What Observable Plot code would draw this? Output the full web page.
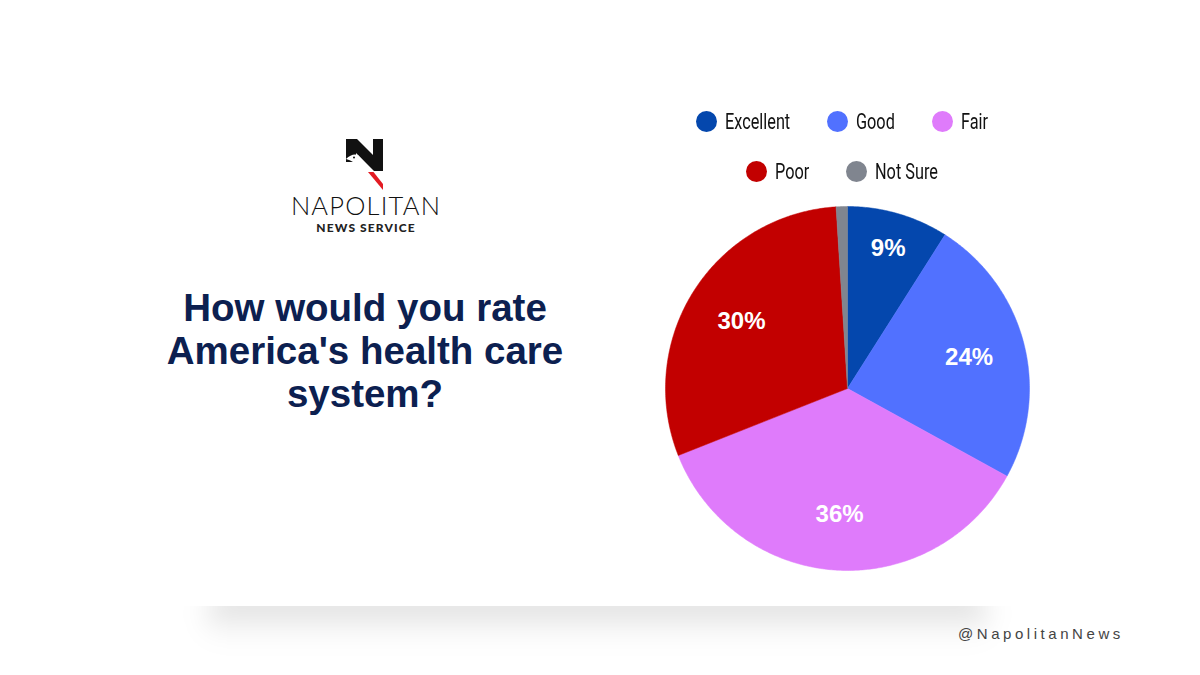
<!DOCTYPE html>
<html>
<head>
<meta charset="utf-8">
<script src="https://cdn.jsdelivr.net/npm/d3@7"></script>
<script src="https://cdn.jsdelivr.net/npm/@observablehq/plot@0.6"></script>
<style>
  html, body { margin: 0; padding: 0; background: #fff; }
  #page { position: relative; width: 1200px; height: 675px; overflow: hidden; background: #fff; font-family: "Liberation Sans", Arial, sans-serif; }
  #shadow { position: absolute; left: 205px; top: 592px; width: 785px; height: 52px;
    background: linear-gradient(to bottom, rgba(0,0,0,0.17), rgba(0,0,0,0.03) 70%, rgba(0,0,0,0)); filter: blur(13px); border-radius: 40px; }
  #card { position: absolute; left: 0; top: 0; width: 1200px; height: 606px; background: #fff; }
  #chart { position: absolute; left: 0; top: 0; }
  #title { position: absolute; left: 115px; width: 500px; top: 286px; text-align: center;
    font-weight: bold; font-size: 38.5px; line-height: 43px; color: #0c2050; }
  #legend { position: absolute; left: 600px; width: 484px; top: 96px; text-align: center;
    font-family: Roboto, sans-serif; font-size: 22px; color: #111; }
  .row { display: flex; justify-content: center; gap: 37px; height: 50px; align-items: center; }
  .item { display: flex; align-items: center; gap: 8px; }
  .sw { width: 21px; height: 21px; border-radius: 50%; display: inline-block; flex: none; }
  .lab { display: inline-block; white-space: nowrap; overflow: visible; }
  .lab span { display: inline-block; transform: scaleX(0.74); transform-origin: left center; }
  #handle { position: absolute; left: 958px; top: 625px; font-size: 15px; letter-spacing: 3.55px; color: #444;
    font-family: "Liberation Sans", Arial, sans-serif; }
  #icon { position: absolute; left: 345px; top: 138px; }
  #lname { position: absolute; left: 266px; width: 200px; top: 194px; text-align: center; font-family: "Lato", sans-serif; font-weight: 300; font-size: 25.5px; letter-spacing: 1.2px; color: #111; line-height: 22px; }
  #lsub { position: absolute; left: 266px; width: 200px; top: 221.5px; text-align: center; font-family: "Lato", sans-serif; font-weight: 900; font-size: 12px; letter-spacing: 1.1px; color: #222; line-height: 12px; }
</style>
</head>
<body>
<div id="page">
  <div id="shadow"></div>
  <div id="card"></div>
  <div id="chart"></div>
  <svg id="icon" width="40" height="54" viewBox="0 0 40 54">
    <path d="M1,1 L12,1 L28,17 L28,1 L38,1 L38,33 L29,33 L11,15 L11,24 L1,24 Z" fill="#111"/>
    <path d="M1,21 Q7,15 13,17 L27,32 L21,33 Q15,26 8,24 Q5,22 1,21 Z" fill="#fff"/>
    <circle cx="9" cy="19.5" r="1" fill="#111"/>
    <polygon points="23,34 28.5,34 38,46 38,52" fill="#e31b23"/>
  </svg>
  <div id="lname">NAPOLITAN</div>
  <div id="lsub">NEWS SERVICE</div>
  <div id="title">How would you rate America's health care system?</div>
  <div id="legend"></div>
  <div id="handle">@NapolitanNews</div>
</div>
<script>
const categories = ["Excellent", "Good", "Fair", "Poor", "Not Sure"];
const values = [9, 24, 36, 30, 1];
const colors = ["#0447ad", "#5171ff", "#df7bfb", "#c20000", "#80858f"];
const labels = ["9%", "24%", "36%", "30%", ""];

const data = categories.map((c, i) => ({name: c, value: values[i], label: labels[i]}));
const arcs = d3.pie().sort(null).value(d => d.value)(data);

// polygon outline for each slice in unit-circle coordinates
const slicePts = [];
arcs.forEach(a => {
  slicePts.push({name: a.data.name, x: 0, y: 0});
  const n = Math.max(2, Math.ceil((a.endAngle - a.startAngle) / 0.01));
  for (let k = 0; k <= n; k++) {
    const t = a.startAngle + (a.endAngle - a.startAngle) * k / n;
    slicePts.push({name: a.data.name, x: Math.sin(t), y: Math.cos(t)});
  }
  slicePts.push({name: a.data.name, x: 0, y: 0});
});
const labelPts = arcs.filter(a => a.data.label).map(a => {
  const m = (a.startAngle + a.endAngle) / 2;
  const r = a.data.value < 15 ? 0.8 : 0.69;
  return {label: a.data.label, x: Math.sin(m) * r, y: Math.cos(m) * r};
});

const cx = 847, cy = 388, R = 182;
const chart = Plot.plot({
  width: 1200, height: 675, margin: 0,
  x: {domain: [-1, 1], range: [cx - R, cx + R], axis: null},
  y: {domain: [-1, 1], range: [cy + R, cy - R], axis: null},
  color: {domain: categories, range: colors},
  style: {background: "transparent"},
  marks: [
    Plot.line(slicePts, {x: "x", y: "y", z: "name", fill: "name", stroke: "name", strokeWidth: 0.5, curve: "linear"}),
    Plot.text(labelPts, {x: "x", y: "y", text: "label", fill: "white", fontSize: 24, fontWeight: "bold",
      fontFamily: "Liberation Sans, Arial, sans-serif"})
  ]
});
document.getElementById("chart").appendChild(chart);

// legend
const legend = document.getElementById("legend");
const rows = [[0, 1, 2], [3, 4]];
rows.forEach(idx => {
  const row = document.createElement("div");
  row.className = "row";
  idx.forEach(i => {
    const it = document.createElement("div");
    it.className = "item";
    it.innerHTML = `<span class="sw" style="background:${colors[i]}"></span><span class="lab"><span>${categories[i]}</span></span>`;
    row.appendChild(it);
  });
  legend.appendChild(row);
});
// shrink label boxes to their condensed width
legend.querySelectorAll(".lab").forEach(l => {
  const inner = l.firstChild;
  l.style.width = (inner.offsetWidth * 0.74) + "px";
});
</script>
</body>
</html>
